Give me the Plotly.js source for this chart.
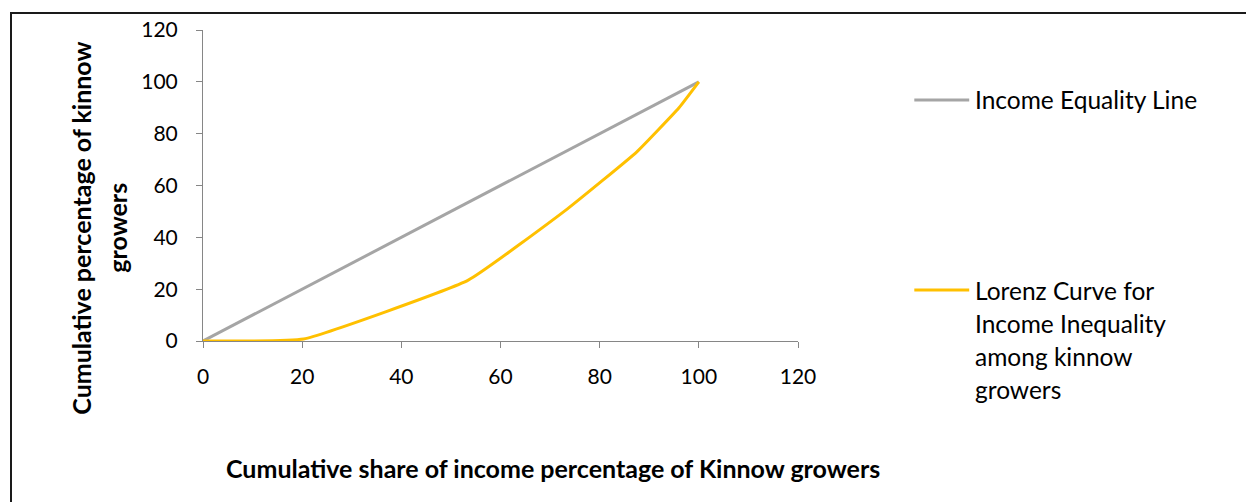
<!DOCTYPE html>
<html>
<head>
<meta charset="utf-8">
<script src="https://cdn.plot.ly/plotly-3.0.1.min.js"></script>
<style>
  html, body { margin: 0; padding: 0; background: #fff; }
  #wrap { position: relative; width: 1246px; height: 502px; overflow: hidden; }
  #chart { position: absolute; left: 0; top: 0; width: 1246px; height: 502px; }
  #frame { position: absolute; left: 10px; top: 12px; width: 1300px; height: 600px;
           border-left: 2px solid #1a1a1a; border-top: 2px solid #1a1a1a; pointer-events: none; }
</style>
</head>
<body>
<div id="wrap">
  <div id="chart"></div>
  <div id="frame"></div>
</div>
<script>
// Perfect equality line
const equalityX = [0, 100];
const equalityY = [0, 100];

// Lorenz curve: cumulative income share vs cumulative share of growers
const lorenzX = [0, 20.3, 53.5, 73.5, 87.5, 96, 100];
const lorenzY = [0, 0.8, 23.5, 51, 73, 90, 100];

const axisTicks = [0, 20, 40, 60, 80, 100, 120];

const seriesNames = ["Income Equality Line",
  ["Lorenz Curve for", "Income Inequality", "among kinnow", "growers"]];
const yTitleLines = ["Cumulative percentage of kinnow", "growers"];
const xTitle = "Cumulative share of income percentage of Kinnow growers";

const W = 1246, H = 502;
const L = 202.5, R = 798.5, T = 30, B = 341;
const px = x => (x - L) / (R - L);
const py = y => (B - y) / (B - T);

const FONT = "Lato, 'Open Sans', sans-serif";
const GRAY = "#A5A5A5", GOLD = "#FFC000", AXIS = "#868686";

const traces = [
  { x: equalityX, y: equalityY, type: "scatter", mode: "lines",
    name: seriesNames[0], line: { color: GRAY, width: 3 }, showlegend: false },
  { x: lorenzX, y: lorenzY, type: "scatter", mode: "lines",
    name: seriesNames[1].join(" "), line: { color: GOLD, width: 3, shape: "spline", smoothing: 0.35 },
    showlegend: false }
];

const annotations = [];
// y-axis title, two lines
const yCols = [80, 116];
yTitleLines.forEach((t, i) => annotations.push({
  text: t, xref: "paper", yref: "paper", x: px(yCols[i]), y: py(228),
  xanchor: "center", yanchor: "middle", showarrow: false, textangle: -90,
  font: { family: FONT, size: 25, color: "#000", weight: 700 }
}));
// x-axis title
annotations.push({
  text: xTitle, xref: "paper", yref: "paper", x: px(553), y: py(468),
  xanchor: "center", yanchor: "middle", showarrow: false,
  font: { family: FONT, size: 25, color: "#000", weight: 700 }
});
// legend text
annotations.push({
  text: seriesNames[0], xref: "paper", yref: "paper", x: px(974), y: py(100),
  xanchor: "left", yanchor: "middle", showarrow: false,
  font: { family: FONT, size: 24.5, color: "#000" }
});
const lorenzRows = [290, 323, 356, 389];
seriesNames[1].forEach((t, i) => annotations.push({
  text: t, xref: "paper", yref: "paper", x: px(974), y: py(lorenzRows[i]),
  xanchor: "left", yanchor: "middle", showarrow: false,
  font: { family: FONT, size: 24.5, color: "#000" }
}));

// legend line samples
const shapes = [
  { type: "line", xref: "paper", yref: "paper", x0: px(915), x1: px(970), y0: py(100), y1: py(100),
    line: { color: GRAY, width: 3 } },
  { type: "line", xref: "paper", yref: "paper", x0: px(915), x1: px(970), y0: py(290), y1: py(290),
    line: { color: GOLD, width: 3 } }
];

const layout = {
  width: W, height: H,
  margin: { l: L, r: W - R, t: T, b: H - B, pad: 0 },
  paper_bgcolor: "#fff", plot_bgcolor: "#fff",
  font: { family: FONT, size: 21, color: "#000" },
  xaxis: {
    range: [0, 120], tickvals: axisTicks, ticktext: axisTicks.map(String),
    showgrid: false, zeroline: false, showline: true, linecolor: AXIS, linewidth: 1,
    ticks: "outside", ticklen: 6, tickcolor: AXIS, tickwidth: 1,
    tickfont: { family: FONT, size: 21, color: "#000" }, ticklabelstandoff: 11, fixedrange: true
  },
  yaxis: {
    range: [0, 120], tickvals: axisTicks, ticktext: axisTicks.map(String),
    showgrid: false, zeroline: false, showline: true, linecolor: AXIS, linewidth: 1,
    ticks: "outside", ticklen: 6, tickcolor: AXIS, tickwidth: 1,
    tickfont: { family: FONT, size: 21, color: "#000" }, ticklabelstandoff: 14, fixedrange: true
  },
  annotations: annotations,
  shapes: shapes,
  showlegend: false
};

Plotly.newPlot("chart", traces, layout, { staticPlot: true, displayModeBar: false });
</script>
</body>
</html>
